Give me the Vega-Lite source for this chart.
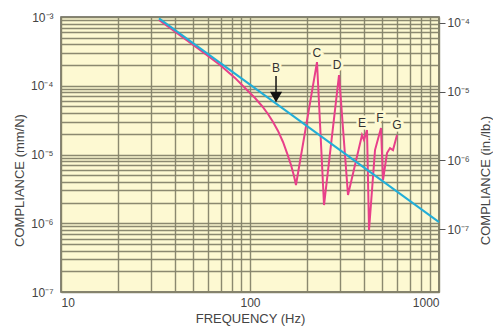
{
  "$schema": "https://vega.github.io/schema/vega-lite/v6.json",
  "width": 378,
  "height": 275,
  "autosize": {"type": "none"},
  "padding": {"left": 61, "top": 17, "right": 54, "bottom": 37},
  "background": "white",
  "config": {
    "view": {"fill": "#fdf9d2", "stroke": "#5f5e52", "strokeWidth": 1.5},
    "font": "Liberation Sans",
    "axis": {
      "labelFont": "Liberation Sans",
      "titleFont": "Liberation Sans",
      "labelColor": "#444444",
      "titleColor": "#444444",
      "labelFontSize": 12,
      "titleFontSize": 13,
      "titleFontWeight": "normal",
      "domain": false,
      "gridColor": "#85836a",
      "gridOpacity": 0.95,
      "gridWidth": 1.4
    }
  },
  "datasets": {
    "blue": [
      {"f": 33, "c": 0.000955},
      {"f": 1000, "c": 0.00000104}
    ],
    "pink": [
      {"f": 33.0, "c": 0.000904},
      {"f": 54.4, "c": 0.000331},
      {"f": 69.4, "c": 0.000200},
      {"f": 83.3, "c": 0.000130},
      {"f": 96.4, "c": 0.0000867},
      {"f": 106.3, "c": 0.0000664},
      {"f": 115.7, "c": 0.0000508},
      {"f": 124.5, "c": 0.0000388},
      {"f": 132.4, "c": 0.0000297},
      {"f": 140.7, "c": 0.0000220},
      {"f": 149.5, "c": 0.0000152},
      {"f": 157.0, "c": 0.0000105},
      {"f": 164.8, "c": 0.00000704},
      {"f": 170.9, "c": 0.00000487},
      {"f": 175.1, "c": 0.00000360},
      {"f": 226.2, "c": 0.000221},
      {"f": 246.4, "c": 0.00000184},
      {"f": 295.8, "c": 0.000143},
      {"f": 330, "c": 0.00000258},
      {"f": 391.4, "c": 0.0000192},
      {"f": 401, "c": 0.0000163},
      {"f": 416, "c": 0.0000227},
      {"f": 426.3, "c": 0.000000797},
      {"f": 458.6, "c": 0.0000116},
      {"f": 493.3, "c": 0.0000243},
      {"f": 505.5, "c": 0.00000426},
      {"f": 530.8, "c": 0.0000105},
      {"f": 550.5, "c": 0.0000124},
      {"f": 571, "c": 0.0000116},
      {"f": 599.6, "c": 0.0000192}
    ],
    "labels": [
      {"f": 137.3, "c": 0.000181, "t": "B"},
      {"f": 226, "c": 0.000300, "t": "C"},
      {"f": 288.6, "c": 0.000200, "t": "D"},
      {"f": 391, "c": 0.0000287, "t": "E"},
      {"f": 487.5, "c": 0.0000340, "t": "F"},
      {"f": 599.6, "c": 0.0000269, "t": "G"}
    ],
    "arrow": [
      {"f": 137.3, "c": 0.000139, "c2": 0.0000811}
    ],
    "head": [
      {"f": 137.3, "c": 0.0000685}
    ],
    "right": [
      {"r": 0.0000000122},
      {"r": 0.000122}
    ]
  },
  "layer": [
    {
      "encoding": {
        "x": {
          "field": "f",
          "type": "quantitative",
          "scale": {"type": "log", "domain": [10, 1000], "nice": false},
          "axis": {
            "title": "FREQUENCY (Hz)",
            "values": [10, 20, 30, 40, 50, 60, 70, 80, 90, 100, 200, 300, 400, 500, 600, 700, 800, 900, 1000],
            "format": "d",
            "labelExpr": "datum.value == 10 || datum.value == 100 || datum.value == 1000 ? datum.label : ''",
            "labelOverlap": false,
            "ticks": false,
            "labelPadding": 5,
            "titlePadding": 4,
            "grid": true
          }
        },
        "y": {
          "field": "c",
          "type": "quantitative",
          "scale": {"type": "log", "domain": [0.0000001, 0.001], "nice": false},
          "axis": {
            "title": "COMPLIANCE (mm/N)",
            "orient": "left",
            "values": [0.0000001, 0.0000002, 0.0000003, 0.0000004, 0.0000005, 0.0000006, 0.0000007, 0.0000008, 0.0000009,
                       0.000001, 0.000002, 0.000003, 0.000004, 0.000005, 0.000006, 0.000007, 0.000008, 0.000009,
                       0.00001, 0.00002, 0.00003, 0.00004, 0.00005, 0.00006, 0.00007, 0.00008, 0.00009,
                       0.0001, 0.0002, 0.0003, 0.0004, 0.0005, 0.0006, 0.0007, 0.0008, 0.0009, 0.001],
            "labelExpr": "datum.value == 0.001 ? '10⁻³' : datum.value == 0.0001 ? '10⁻⁴' : datum.value == 0.00001 ? '10⁻⁵' : datum.value == 0.000001 ? '10⁻⁶' : datum.value == 0.0000001 ? '10⁻⁷' : ''",
            "labelOverlap": false,
            "ticks": false,
            "labelPadding": 8,
            "grid": true,
            "titleX": -42,
            "titleY": 163,
            "titleBaseline": "middle",
            "titleAngle": -90
          }
        }
      },
      "layer": [
        {
          "data": {"name": "pink"},
          "mark": {"type": "line", "color": "#e8408a", "strokeWidth": 2}
        },
        {
          "data": {"name": "blue"},
          "mark": {"type": "line", "color": "#22aed8", "strokeWidth": 2}
        },
        {
          "data": {"name": "arrow"},
          "mark": {"type": "rule", "color": "#111111", "strokeWidth": 1.5},
          "encoding": {"y2": {"field": "c2"}}
        },
        {
          "data": {"name": "head"},
          "mark": {"type": "point", "shape": "triangle-down", "filled": true, "color": "#111111", "size": 150, "opacity": 1}
        },
        {
          "data": {"name": "labels"},
          "mark": {"type": "text", "fontSize": 12, "font": "Liberation Sans", "color": "#fdf9d2", "stroke": "#fdf9d2", "strokeWidth": 5, "align": "center", "baseline": "middle"},
          "encoding": {"text": {"field": "t"}}
        },
        {
          "data": {"name": "labels"},
          "mark": {"type": "text", "fontSize": 12, "font": "Liberation Sans", "color": "#333333", "align": "center", "baseline": "middle"},
          "encoding": {"text": {"field": "t"}}
        }
      ]
    },
    {
      "data": {"name": "right"},
      "mark": {"type": "point", "opacity": 0},
      "encoding": {
        "y": {
          "field": "r",
          "type": "quantitative",
          "scale": {"type": "log", "domain": [0.0000000122, 0.000122], "nice": false},
          "axis": {
            "title": "COMPLIANCE (in./lb.)",
            "orient": "right",
            "values": [0.0001, 0.00001, 0.000001, 0.0000001],
            "labelExpr": "datum.value == 0.0001 ? '10⁻⁴' : datum.value == 0.00001 ? '10⁻⁵' : datum.value == 0.000001 ? '10⁻⁶' : '10⁻⁷'",
            "grid": false,
            "ticks": true,
            "tickSize": 6,
            "tickColor": "#555555",
            "tickWidth": 1,
            "labelPadding": 2,
            "labelOverlap": false,
            "titleX": 46,
            "titleY": 163,
            "titleBaseline": "middle",
            "titleAngle": -90
          }
        }
      }
    }
  ],
  "resolve": {"scale": {"y": "independent"}, "axis": {"y": "independent"}}
}
